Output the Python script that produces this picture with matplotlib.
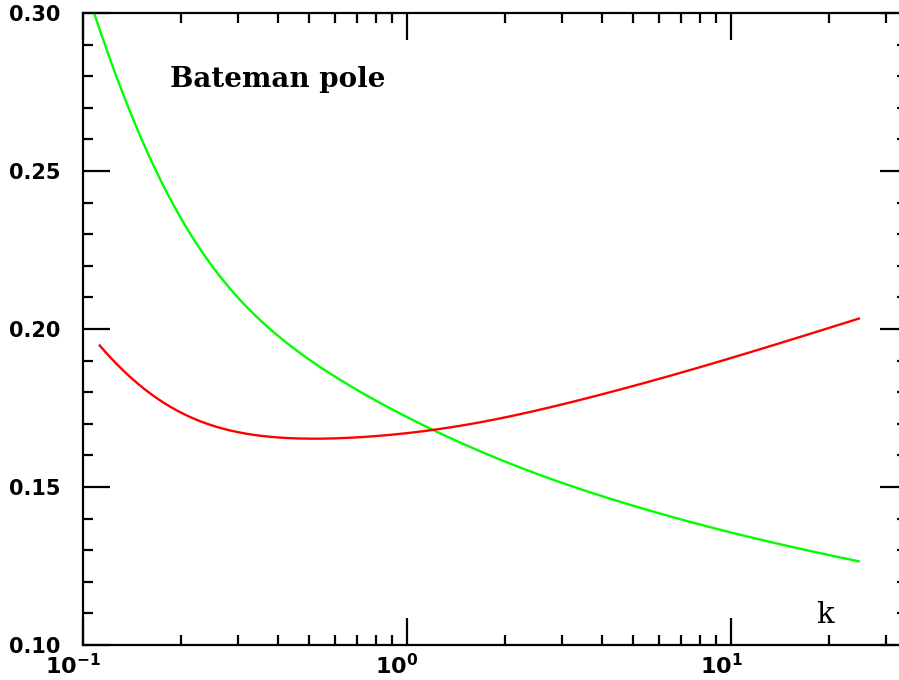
import numpy as np
import matplotlib
matplotlib.use("Agg")
import matplotlib.pyplot as plt
from matplotlib.ticker import FixedLocator, LogLocator, NullFormatter, MultipleLocator
import matplotlib.transforms as mtransforms

# ---- data ----
k_green = [0.108, 0.124, 0.1397, 0.161, 0.199, 0.265, 0.352, 0.513, 0.732,
           0.826, 1.178, 1.68, 2.97, 5.91, 11.2, 25.0]
v_green = [0.300, 0.2845, 0.2685, 0.2510, 0.2340, 0.2166, 0.2035, 0.1890, 0.1798,
           0.1766, 0.1682, 0.1612, 0.1513, 0.1418, 0.1342, 0.1264]

k_red = [0.112, 0.124, 0.157, 0.199, 0.284, 0.406, 0.539, 0.826, 1.203, 1.68,
         2.97, 5.91, 11.2, 25.0]
v_red = [0.1952, 0.1891, 0.1791, 0.1733, 0.1680, 0.1657, 0.1652, 0.1661, 0.1680, 0.1702,
         0.1760, 0.1839, 0.1923, 0.2034]

y_ticks = [0.10, 0.15, 0.20, 0.25, 0.30]
y_labels = ["0.10", "0.15", "0.20", "0.25", "0.30"]
x_ticks = [0.1, 1.0, 10.0]
x_labels = [r"$\mathbf{10^{-1}}$", r"$\mathbf{10^{0}}$", r"$\mathbf{10^{1}}$"]

plt.rcParams['mathtext.fontset'] = 'dejavusans'

W, H = 899, 680
fig = plt.figure(figsize=(W / 100, H / 100), dpi=100)
left, right, top, bottom = 83, 907, 13, 645
ax = fig.add_axes([left / W, (H - bottom) / H, (right - left) / W, (bottom - top) / H])


def smooth(xs, ys, lam=1e8, n=400):
    # Whittaker smoothing (3rd-difference penalty) of the read points in log-x,
    # with the end points held in place
    lx = np.log10(xs)
    xx = np.linspace(lx[0], lx[-1], n)
    yy = np.interp(xx, lx, ys)
    w = np.ones(n)
    w[:3] = 200.0
    w[-3:] = 200.0
    D = np.diff(np.eye(n), 3, axis=0)
    z = np.linalg.solve(np.diag(w) + lam * D.T @ D, w * yy)
    return 10 ** xx, z


gx, gy = smooth(k_green, v_green)
rx, ry = smooth(k_red, v_red)
ax.plot(gx, gy, color=(0.0, 1.0, 0.0), lw=1.7, solid_capstyle='butt')
ax.plot(rx, ry, color=(1.0, 0.0, 0.0), lw=1.7, solid_capstyle='butt')

ax.set_xscale('log')
ax.set_xlim(0.1, 10 ** ((right - left) / 324 - 1))
ax.set_ylim(0.10, 0.30)

for s in ax.spines.values():
    s.set_linewidth(1.6)

ax.xaxis.set_major_locator(FixedLocator(x_ticks))
ax.set_xticklabels(x_labels)
ax.xaxis.set_minor_locator(LogLocator(base=10, subs=np.arange(2, 10)))
ax.xaxis.set_minor_formatter(NullFormatter())
ax.yaxis.set_major_locator(FixedLocator(y_ticks))
ax.set_yticklabels(y_labels)
ax.yaxis.set_minor_locator(MultipleLocator(0.01))

ax.tick_params(which='major', direction='in', length=19.5, width=1.6,
               top=True, right=True)
ax.tick_params(which='minor', direction='in', length=7, width=1.6,
               top=True, right=True)
ax.tick_params(axis='y', which='major', pad=16)
ax.tick_params(axis='x', which='major', pad=6)

for lab in ax.get_yticklabels():
    lab.set_fontfamily('DejaVu Sans')
    lab.set_fontweight('bold')
    lab.set_fontsize(15)
for lab in ax.get_xticklabels():
    lab.set_fontsize(16)
    lab.set_transform(lab.get_transform() +
                      mtransforms.ScaledTranslation(-10 / 100, 0, fig.dpi_scale_trans))

ax.text(170 / W, 1 - 87 / H, "Bateman pole", transform=fig.transFigure,
        family='DejaVu Serif', fontweight='bold', fontsize=20, ha='left', va='baseline')
ax.text(825 / W, 1 - 623 / H, "k", transform=fig.transFigure,
        family='DejaVu Serif', fontsize=21, ha='center', va='baseline')

fig.savefig("out.png", dpi=100)
